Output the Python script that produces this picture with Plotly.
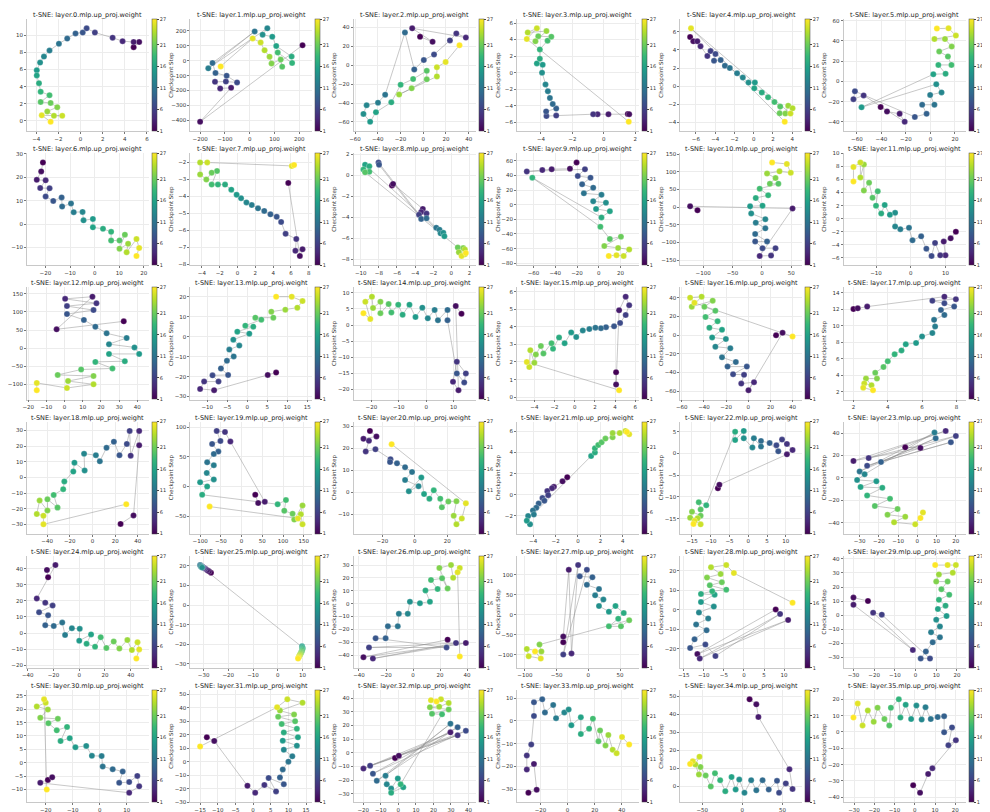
import plotly.graph_objects as go

W, H = 990, 812

steps = [1, 2, 3, 4, 5, 6, 7, 8, 9, 10, 11, 12, 13, 14, 15, 16, 17, 18, 19, 20, 21, 22, 23, 24, 25, 26, 27]
cbar_ticks = [1, 6, 11, 16, 21, 27]

# t-SNE coordinates per layer, in checkpoint order
l0_x = [4.8, 5.3, 4.8, 3.8, 2.9, 1.3, 0.55, 0.2, -0.45, -1.2, -1.95, -2.8, -3.3, -3.65, -3.95, -3.95, -3.75, -3.6, -2.8, -3.6, -2.7, -2.1, -3.0, -2.4, -1.65, -3.5, -2.7]
l0_y = [8.6, 9.2, 9.2, 9.3, 9.7, 10.3, 10.8, 10.3, 10.2, 9.6, 9.0, 8.2, 7.5, 6.8, 5.9, 5.3, 4.4, 3.4, 3.0, 2.2, 2.1, 1.6, 1.1, 0.6, 0.6, 0.65, -0.1]
l1_x = [213, -200, -75, -119, -140, -96, -51, -93, -138, -150, 20, -167, 71, 52, 91, 107, 169, 171, 113, 131, 125, 88, 80, 60, 44, 12, -117]
l1_y = [104, -410, -182, -186, -142, -140, -146, -101, -82, -15, 197, -51, 218, 175, 161, 99, 28, -15, 55, -40, 8, -19, 27, 70, 123, 150, -38]
l2_x = [-2.8, 8.2, -9.7, 37.5, 29.1, 23.5, 9.5, 0.5, -7.9, -16.1, -33.5, -39.8, -49.8, -52.6, -46.7, -41.6, -28.1, -19.9, -8.9, 3.1, 3.1, -10.2, -21.2, 12.0, 12.0, 19.7, 31.9]
l2_y = [30.1, 24.7, 39.0, 29.2, 33.6, 26.2, 11.3, 5.4, -4.5, 34.5, -31.2, -39.6, -42.3, -51.5, -59.8, -49.7, -39.3, -20.8, -14.6, -6.0, -14.9, -24.4, -31.0, -11.9, -2.1, 3.3, 21.1]
l3_x = [1.52, 1.61, 0.29, -0.40, -0.68, -3.03, -3.65, -3.67, -3.03, -3.25, -3.43, -3.56, -3.71, -3.93, -3.89, -4.26, -4.07, -4.07, -3.58, -3.34, -4.17, -4.35, -3.65, -4.84, -4.26, -4.90, 1.58]
l3_y = [-4.98, -5.02, -5.02, -5.02, -5.02, -5.19, -5.25, -4.68, -4.34, -3.80, -3.05, -2.24, -1.42, 0.0, 0.95, 1.12, 1.69, 2.81, 3.86, 4.34, 4.41, 3.80, 5.02, 4.85, 5.36, 4.07, -5.93]
l4_x = [-6.6, -6.27, -5.85, -5.52, -4.81, -4.48, -3.97, -4.12, -3.43, -2.99, -2.48, -1.73, -1.13, -0.54, 0.12, 0.06, 0.84, 1.49, 2.15, 2.75, 2.69, 3.28, 3.58, 4.03, 3.82, -6.51, 3.22]
l4_y = [5.44, 4.97, 4.97, 4.41, 3.34, 3.88, 3.56, 2.81, 2.88, 2.25, 2.0, 1.41, 0.94, 0.38, 0.38, -0.25, -0.72, -1.25, -1.78, -2.28, -3.03, -3.06, -2.19, -2.47, -3.06, 6.41, -3.97]
l5_x = [-40.6, -35.4, -25.1, -21.0, -54.5, -62.8, -61.6, -12.7, -3.1, -6.7, 3.3, -0.2, 9.1, 4.8, -56.2, 2.4, 12.4, 6.5, 17.2, 14.3, 7.2, 17.4, 11.9, 3.3, 20.8, 14.8, 5.3]
l5_y = [-25.4, -29.8, -32.1, -39.9, -13.9, -17.6, -9.8, -35.1, -32.1, -23.1, -23.1, -13.4, -10.9, -2.8, -25.6, 7.0, 7.5, 16.2, 16.2, 24.5, 29.5, 34.3, 41.8, 41.8, 45.2, 52.4, 52.1]
l6_x = [-21.0, -21.7, -23.5, -19.9, -22.1, -18.3, -19.9, -16.8, -13.4, -13.2, -9.6, -8.5, -4.9, -4.5, -0.7, -0.7, 3.4, 6.7, 6.7, 10.1, 12.3, 10.1, 13.6, 13.0, 17.0, 18.1, 17.0]
l6_y = [26.3, 22.5, 18.9, 18.7, 15.4, 15.3, 11.8, 9.9, 11.4, 7.5, 8.8, 5.1, 5.2, 1.6, 2.2, -1.4, -2.0, -3.3, -7.0, -7.0, -4.5, -10.5, -8.4, -12.0, -6.4, -10.2, -13.6]
l7_x = [5.7, 7.0, 7.3, 6.5, 6.6, 5.4, 4.9, 4.4, 3.7, 3.0, 2.3, 1.6, 1.0, 0.4, -0.1, -0.7, -1.4, -2.2, -2.9, -2.3, -2.9, -3.5, -4.2, -4.2, -3.4, 6.1, 6.35]
l7_y = [-3.2, -7.5, -7.1, -7.2, -6.5, -6.2, -5.5, -5.2, -5.05, -4.85, -4.7, -4.5, -4.35, -4.1, -3.9, -3.6, -3.3, -3.3, -3.3, -2.5, -2.6, -3.0, -2.7, -2.0, -2.0, -2.2, -2.15]
l8_x = [-6.55, -6.43, -3.15, -3.33, -2.74, -3.57, -8.04, -7.98, -3.33, -2.74, -1.67, -1.31, -1.19, -0.89, -0.77, -9.52, -9.05, -9.7, -9.05, -9.52, 0.71, 1.31, 0.83, 1.49, 1.49, 1.13, 1.6]
l8_y = [-0.95, -0.81, -3.2, -3.5, -3.65, -3.75, 1.24, 1.03, -4.16, -4.1, -5.0, -5.19, -5.54, -5.49, -5.81, 1.03, 0.89, 0.57, 0.35, 0.30, -6.89, -6.95, -7.35, -7.08, -7.54, -7.7, -7.43]
l9_x = [-20.4, -26.5, -43.3, -51.9, -66.2, -12.7, -19.3, -7.6, -15.3, -5.1, -13.7, 2.5, -5.1, 6.6, -2.5, 10.2, 2.5, -61.1, 1.5, 10.2, 20.4, 5.1, 17.8, 28.0, 22.9, 16.3, 9.2]
l9_y = [57.6, 49.1, 48.4, 47.2, 45.3, 48.4, 39.1, 36.8, 27.9, 23.2, 15.5, 13.5, 4.6, 2.7, -5.8, -8.9, -17.4, 36.8, -30.2, -46.8, -43.7, -56.5, -59.2, -61.1, -70.0, -68.9, -70.0]
l10_x = [-109.5, -122, 52, -3.8, 15.5, 23.1, 1.0, -11.5, 8.7, -11.5, 5.8, -10.5, 5.8, -18.2, -20.1, 1.0, -10.5, 10.6, -3.8, 27.9, 13.5, 23.1, 8.7, 29.8, 49, 42.3, 17.3]
l10_y = [-8.8, 2.4, -4, -138, -137, -116, -116, -97, -97, -76, -60, -44, -34, -18, 2.4, 4, 25.6, 33.6, 52, 66, 66, 82, 95, 101, 97, 122, 126]
l11_x = [13, 11.5, 9.5, 10, 8.5, 7, 6, 4.5, 3, 0.5, -0.5, -3, -4.5, -4.5, -6, -7.5, -8.5, -10, -9.5, -11, -12, -13.5, -13.5, -14.5, -14.5, -16.5, -16.5]
l11_y = [-2.0, -3.0, -3.5, -5.6, -5.6, -3.7, -5.7, -4.6, -2.7, -3.3, -1.4, -1.6, -1.2, 0.9, 0.6, 2.1, 0.8, 2.0, 4.2, 3.2, 5.5, 4.3, 8.3, 6.3, 8.6, 7.9, 5.7]
l12_x = [32.5, -4.4, 15.3, 0.3, 17.5, 1.3, 15.9, 1.3, 10.6, 16.9, 23.1, 34.1, 24.4, 38.4, 41, 24.4, 33.1, 16.9, 26.3, 9.1, -3.8, 15.9, 1.9, 15.9, 1.3, -15.3, -15.3]
l12_y = [74, 52, 142, 136, 124, 116, 105, 94, 78, 59, 41, 28, 11, 2, -16, -16, -36, -38, -56, -59, -74, -77, -91, -100, -110, -96, -116]
l13_x = [7.2, 5.1, -8.3, -11.8, -10.8, -7.2, -8.7, -4.8, -6.6, -5.1, -3.4, -4.5, -2.0, -3.5, 0.5, -2.5, 1.5, -0.5, 3.5, 2.0, 6.5, 6.0, 9.5, 12.5, 13.8, 11.1, 7.2]
l13_y = [-18.0, -19.2, -26.8, -26.2, -22.5, -22.5, -19.4, -19.2, -15.9, -12.1, -9.9, -6.5, -4.5, -1.5, 1.5, 2.5, 5.0, 5.5, 8.5, 9.5, 9.5, 12.5, 13.5, 14.5, 17.8, 20.0, 20.0]
l14_x = [12.9, 10.8, 11.8, 9.8, 11.2, 14.5, 13.9, 11.2, 7.8, 7.8, 4.3, 3.1, 0.6, -1.4, -3.9, -6.1, -8.6, -10.2, -12.7, -13.7, -16.7, -16.7, -19.4, -19.8, -22.2, -20.4, -22.9]
l14_y = [3.5, 5.9, -20.2, -17.6, -11.4, -15.0, -17.8, -15.0, 1.5, 4.7, 1.5, 4.7, 2.1, 5.4, 2.5, 6.3, 3.2, 6.3, 3.9, 6.5, 3.7, 7.2, 5.3, 8.8, 7.2, 1.9, 3.7]
l15_x = [4.1, 4.1, 4.4, 5.05, 5.4, 5.05, 4.5, 3.9, 3.1, 2.6, 2.05, 1.45, 0.8, 0.15, -0.35, -1.0, -1.55, -2.15, -2.3, -3.1, -3.35, -3.85, -4.0, -4.4, -4.5, -4.75, 4.4]
l15_y = [1.42, 0.72, 4.94, 5.71, 5.23, 4.67, 4.22, 4.03, 3.98, 3.92, 3.95, 3.87, 3.79, 3.42, 3.68, 3.07, 3.39, 2.75, 3.07, 2.48, 2.91, 2.43, 1.95, 2.67, 1.71, 2.0, 0.4]
l16_x = [25.1, 31.0, 0.2, 5.2, -6.3, -3.8, -13.7, -1.3, -18.7, -11.2, -23.7, -16.2, -29.7, -20.2, -32.6, -23.7, -35.1, -27.7, -38.6, -29.7, -39.6, -32.1, -51.0, -42.1, -52.5, -48.6, 40.0]
l16_y = [-0.3, 2.3, -59, -50.5, -52, -42.6, -42, -33.8, -33.8, -28.9, -23.9, -14.1, -12.5, -4.3, -2.6, 5.6, 7.9, 14.8, 19.3, 25.9, 30.2, 36.7, 30.2, 41.0, 40.0, 34.4, -1.6]
l17_x = [2.0, 2.25, 2.8, 7.3, 7.97, 6.6, 7.3, 7.87, 7.1, 7.3, 6.7, 6.76, 6.6, 6.0, 5.65, 5.05, 4.8, 4.4, 4.0, 3.75, 3.27, 3.37, 2.73, 3.05, 2.63, 2.57, 3.14]
l17_y = [12.0, 12.1, 12.3, 13.5, 13.2, 13.0, 12.7, 12.3, 11.9, 11.3, 10.7, 9.9, 9.1, 8.7, 7.9, 7.75, 7.0, 6.55, 5.7, 5.0, 4.3, 3.6, 3.6, 2.8, 3.0, 2.5, 2.2]
l18_x = [24.8, 36.2, 41.2, 41.2, 33.7, 32.8, 30.3, 23.8, 18.9, 12.4, 6.5, 3.0, -7.4, -6.9, -15.9, -16.9, -24.8, -25.8, -34.2, -30.8, -39.7, -39.7, -46.6, -49.1, -43.2, -43.2, 29.8]
l18_y = [-29.7, -24.3, 20.5, 29.7, 13.9, 29.7, 21.4, 14.2, 22.8, 18.9, 10.3, 14.2, 15.1, 4.4, 9.4, 3.7, -2.6, -7.5, -11.2, -19.3, -14.0, -21.1, -14.8, -23.4, -24.5, -30.0, -17.1]
l19_x = [33, 40, 56, -27, -40, -60, -51, -71, -56, -67, -83, -67, -84, -67, -100, -83, -95, 87, 107, 103, 123, 127, 147, 143, 147, 136, -77]
l19_y = [-14, -28, -26, 76, 92, 94, 77, 72, 59, 55, 41, 36, 23, 12, 7, 0, -14, -30, -23, -41, -46, -56, -32, -47, -64, -54, -34]
l20_x = [-27.7, -23.7, -31.7, -28.3, -30.3, -24.3, -15, -15.3, -11, -6, -1.7, -6, 2.3, -3.7, 4, 5.7, 9, 11.7, 15.7, 16.7, 20.7, 25.7, 24, 25.7, 29, 31.5, -14.3]
l20_y = [27.8, 25.3, 24.2, 23.3, 18.5, 19.5, 15, 13.7, 13.1, 11.4, 9.2, 5.6, 2.8, 0.5, 6.7, -0.8, -2.9, 0.9, -2.9, -6.8, -4.2, -4.0, -10.6, -14.5, -11.9, -5.0, 21.8]
l21_x = [-0.96, -1.38, -2.15, -2.32, -2.74, -2.66, -3.17, -3.0, -3.51, -3.72, -4.02, -3.94, -4.45, -4.28, -4.57, 1.17, 1.51, 1.51, 1.81, 2.11, 2.45, 3.09, 3.09, 3.72, 4.23, 4.57, 4.36]
l21_y = [1.66, 1.26, 0.74, 0.61, 0.34, -0.05, -0.32, -0.58, -0.84, -1.24, -1.5, -1.89, -2.03, -2.82, -2.47, 3.66, 4.0, 4.4, 4.71, 4.97, 5.32, 5.45, 5.84, 5.84, 6.05, 5.74, 5.95]
l22_x = [-8.1, -7.7, 10.3, 11.8, 10.3, 9.0, 7.5, 8.0, 5.7, 3.4, 3.4, 1.5, 1.1, -1.2, -1.2, -3.5, -3.5, -11.2, -13.2, -12.7, -12.7, -15.0, -15.5, -13.5, -12.7, -14.3, -14.6]
l22_y = [-8.0, -7.2, -0.2, 0.8, 2.2, 3.2, 1.9, 0.5, 2.4, 2.9, 1.6, 3.5, 1.4, 3.5, 5.2, 3.1, 5.0, -11.9, -11.2, -12.9, -14.3, -13.4, -14.8, -14.9, -16.3, -15.5, -16.2]
l23_x = [-6.3, 1.6, -33.2, 14.7, -25.3, 20.0, -26.1, 17.4, -18.9, 9.5, -30.0, 8.9, -27.4, -31.3, -21.3, -29.5, -18.2, -26.1, -14.2, -22.1, -10.3, -15.5, -6.3, -12.1, -1.1, 2.9, 1.6]
l23_y = [27.3, 26.8, 15.2, 42.0, 17.7, 37.5, 10.9, 31.9, 14.2, 35.4, 5.8, 40.5, 3.3, -1.8, -3.0, -8.1, -8.9, -15.7, -18.7, -25.1, -27.8, -32.9, -34.7, -39.7, -41.5, -30.9, -35.9]
l24_x = [-24.2, -25.1, -18.5, -33, -26.4, -20.7, -31.2, -24.2, -26.4, -19.8, -13.2, -11, -5.7, 0.4, 0, 9.2, 5.7, 12.3, 16.7, 21.1, 26.8, 31.2, 37.4, 40.9, 45.3, 46.6, 44.4]
l24_y = [34.7, 39.3, 42.3, 21.5, 18.9, 17.1, 12.9, 11.1, 4.9, 4.4, 6.5, -1.2, 3.0, 2.6, -4.8, -0.9, -6.7, -8.5, -2.6, -9.3, -5.3, -9.7, -4.4, -10.6, -5.8, -10.2, -15.9]
l25_x = [-27.0, -27.8, -28.5, -29.3, -29.8, -30.2, -30.5, -30.8, -31.0, -31.2, -31.4, -31.2, -30.9, -30.6, 9.8, 9.9, 10.0, 9.9, 9.8, 9.6, 9.4, 9.2, 9.0, 8.8, 8.6, 8.4, 8.2]
l25_y = [16.5, 17.2, 17.8, 18.5, 18.9, 19.3, 19.6, 19.8, 20.0, 20.2, 20.4, 20.0, 19.6, 19.2, -21.0, -21.5, -22.0, -22.6, -23.2, -23.8, -24.3, -24.8, -25.3, -25.8, -26.3, -26.8, -27.3]
l26_x = [25.6, -36.7, 39.1, -29.7, 31.8, -32.6, 24.8, -27.7, -20.3, -18.6, -11.3, -10.5, -3.9, -2.3, 5.1, 12.5, 9.2, 18.2, 13.3, 21.5, 25.6, 19.5, 28.1, 29.7, 34.6, 33.0, 34.6]
l26_y = [-28.0, -41.6, -30.6, -42.7, -30.6, -34.1, -34.1, -26.9, -26.9, -17.5, -17.5, -7.9, -7.9, 1.5, 0.4, 1.5, 10.3, 11.4, 18.4, 19.7, 11.8, 27.8, 30.0, 20.1, 27.8, 24.5, -41.1]
l27_x = [-39.5, -39.5, -30.8, -26.5, -16.1, -39.5, -2.3, -13.5, 6.4, -2.3, 16.8, 10.7, 23.7, 16.8, 32.4, 42.8, 55.8, 47.1, 32.4, 51.4, 64.4, -77, -74, -97, -94, -75, -84]
l27_y = [-68.8, -54.6, 112.8, -97.2, 124.8, -100, 112.8, 96.5, 94.3, 75.2, 64.5, 48.9, 38.3, 22.0, 7.8, 22.0, 4.3, -9.9, -29.1, -29.1, -13.5, -75, -92, -86, -104, -110, -92]
l28_x = [7.9, -11.6, 11.0, -11.0, 9.0, -7.1, -9.6, -13.4, -12.3, -9.3, -11.9, -8.9, -11.2, -7.5, -10.7, -7.3, -10.7, -7.9, -4.4, -8.5, -5.5, -9.2, -5.8, -8.2, -4.4, -2.5, 12.1]
l28_y = [0.2, -22.7, -5.2, -25.0, -2.1, -23.7, -17.8, -19.6, -15.1, -10.5, -7.5, -4.4, -1.4, 1.7, 4.0, 7.8, 8.2, 9.6, 10.4, 12.6, 14.2, 16.6, 18.4, 21.9, 23.0, 18.9, 3.7]
l29_x = [-23, -30, -30, -1.3, -20.5, -16.3, 7.0, 2.5, 5.0, 8.3, 11.8, 7.5, 11.8, 10.0, 15.0, 10.8, 14.5, 11.3, 16.3, 12.5, 15.5, 10.0, 11.3, 18.0, 19.5, 15.5, 9.5]
l29_y = [10.1, 12.5, 7.4, -24.7, 1.8, 0.4, -30.8, -30.8, -25.8, -19.3, -15.7, -12.1, -8.0, -3.2, -0.6, 4.4, 6.8, 10.9, 14.5, 18.5, 23.9, 23.9, 29.0, 30.2, 35.6, 35.6, 35.6]
l30_x = [-19.2, -17.6, -22.0, 10.9, 14.6, 13.9, 10.9, 7.2, 8.5, 4.8, 1.1, 0.7, -2.9, -5.0, -9.0, -11.1, -14.5, -12.1, -15.9, -19.0, -15.5, -22.0, -19.2, -23.3, -20.0, -20.6, -19.6]
l30_y = [-6.4, -5.4, -7.5, -11.2, -8.8, -4.9, -7.2, -7.5, -3.3, -2.4, -1.4, 2.5, 2.6, 6.3, 5.8, 9.2, 8.1, 13.4, 12.1, 14.8, 16.4, 16.8, 19.9, 21.0, 22.4, 23.7, -10.0]
l31_x = [-13.1, -11.0, -1.6, 0.6, 3.2, 6.5, 4.4, 8.7, 7.6, 8.4, 10.0, 11.1, 8.7, 12.4, 8.4, 12.7, 8.7, 12.4, 8.1, 11.9, 7.1, 11.6, 7.6, 14.0, 9.7, 6.8, -15.0]
l31_y = [18.1, 15.4, -17.9, -23.1, -17.3, -22.1, -12.1, -16.7, -11.7, -5.8, 0, 4.0, 8.8, 11.9, 15.6, 18.1, 21.7, 24.4, 27.9, 30.0, 33.3, 35.0, 37.9, 43.8, 46.3, 40.4, 11.3]
l32_x = [-1.9, 0.3, 29.7, -19.9, 33.8, -16.1, 38.5, -14.5, 33.8, -12.3, 29.7, -7.3, -6.6, -4.1, -0.3, 2.8, -4.1, 1.3, 24.9, 19.2, 28.7, 18.0, 23.3, 28.7, 24.3, 18.6, 21.8]
l32_y = [-3.8, -2.1, 15.0, -11.5, 12.9, -9.4, 16.1, -15.2, 18.8, -20.5, 21.3, -16.7, -23.0, -26.1, -18.8, -25.1, -29.2, -23.0, 28.2, 28.6, 31.7, 33.4, 33.8, 36.5, 39.2, 38.6, 37.6]
l33_x = [-28.9, -22.8, -24.8, -30.1, -30.1, -26.8, -24.8, -24.8, -18.7, -16.7, -10.6, -8.5, -2.4, 0.8, 2.8, 9.8, 9.8, 15.9, 18.7, 22.8, 24.0, 28.0, 30.1, 33.3, 36.2, 40.2, 45.5]
l33_y = [-31.6, -30.3, -18.9, -21.4, -15.2, -10.4, 2.2, 8.2, 9.5, 3.7, 7.0, 1.2, 3.7, 5.0, -1.9, 1.6, -5.8, -3.4, 1.0, -9.0, -4.2, -10.8, -6.2, -12.7, -14.2, -7.1, -10.4]
l34_x = [9.0, 17.4, 20.0, 58.7, 62.6, 54.2, 45.8, 43.2, 32.9, 25.2, 17.4, 11.0, 2.6, -3.9, -8.4, -13.5, -21.3, -27.7, -34.2, -39.4, -45.8, -52.3, -54.2, -58.7, -53.5, -61.9, -65.2]
l34_y = [48.3, 45.5, 38.5, 9.5, -1.4, 1.7, -3.5, 3.1, -1.7, 3.5, -2.1, 3.5, -3.5, 3.8, -1.7, 5.2, -2.6, 3.5, 7.3, 0.0, 6.1, 10.8, 6.6, 12.2, 16.5, 13.9, 12.5]
l35_x = [-0.8, 2.6, 6.6, 8.7, 20.3, 16.6, 18.4, 14.5, 14.5, 11.3, 7.9, 5.3, 3.4, 0.8, -1.8, -4.5, -7.1, -7.9, -11.8, -12.6, -15.0, -18.4, -20.3, -23.2, -25.8, -28.2, -30.3]
l35_y = [-32.6, -37.2, -25.7, -22.2, -5.0, -8.1, 2.8, -0.2, 9.7, 9.1, 7.9, 15.2, 7.6, 16.2, 7.9, 16.6, 8.8, 20.0, 14.8, 4.0, 7.9, 14.8, 6.2, 13.1, 4.0, 17.4, 8.8]

layers = [
    (l0_x, l0_y), (l1_x, l1_y), (l2_x, l2_y), (l3_x, l3_y), (l4_x, l4_y), (l5_x, l5_y),
    (l6_x, l6_y), (l7_x, l7_y), (l8_x, l8_y), (l9_x, l9_y), (l10_x, l10_y), (l11_x, l11_y),
    (l12_x, l12_y), (l13_x, l13_y), (l14_x, l14_y), (l15_x, l15_y), (l16_x, l16_y), (l17_x, l17_y),
    (l18_x, l18_y), (l19_x, l19_y), (l20_x, l20_y), (l21_x, l21_y), (l22_x, l22_y), (l23_x, l23_y),
    (l24_x, l24_y), (l25_x, l25_y), (l26_x, l26_y), (l27_x, l27_y), (l28_x, l28_y), (l29_x, l29_y),
    (l30_x, l30_y), (l31_x, l31_y), (l32_x, l32_y), (l33_x, l33_y), (l34_x, l34_y), (l35_x, l35_y),
]

FONT = "DejaVu Sans"
COL_W = 164.5
fig = go.Figure()
layout = {}
annotations = []

for i, (xs, ys) in enumerate(layers):
    r, c = divmod(i, 6)
    n = i + 1
    xa = "x" if n == 1 else f"x{n}"
    ya = "y" if n == 1 else f"y{n}"

    # pixel box of the axes inside its grid cell
    left = c * COL_W + 12
    right = c * COL_W + 135
    top = r * 135.2 + 8
    bottom = r * 135.2 + 121

    fig.add_trace(go.Scatter(
        x=xs, y=ys, mode="lines", xaxis=xa, yaxis=ya,
        line=dict(color="rgba(140,140,140,0.6)", width=0.8),
        hoverinfo="skip", showlegend=False))
    fig.add_trace(go.Scatter(
        x=xs, y=ys, mode="markers", xaxis=xa, yaxis=ya, showlegend=False,
        marker=dict(size=6, color=steps, colorscale="Viridis", cmin=1, cmax=27,
                    line=dict(color="rgba(255,255,255,0.6)", width=0.4),
                    colorbar=dict(
                        x=(c * COL_W + 138) / W, xanchor="left", xpad=0,
                        y=1 - (top + bottom) / 2 / H, yanchor="middle", ypad=0,
                        len=(bottom - top) / H, lenmode="fraction",
                        thickness=5, outlinewidth=0.5, outlinecolor="#444",
                        tickvals=cbar_ticks, ticks="outside", ticklen=2,
                        tickwidth=0.5, tickfont=dict(size=5, family=FONT, color="#333"),
                        title=dict(text="Checkpoint Step", side="right",
                                   font=dict(size=5.5, family=FONT, color="#333"))))))

    axis_common = dict(
        showgrid=True, gridcolor="#ececec", gridwidth=0.6, zeroline=False,
        showline=True, linecolor="#c8c8c8", linewidth=0.8,
        ticks="outside", ticklen=2, tickwidth=0.5, tickcolor="#777",
        tickfont=dict(size=5.5, family=FONT, color="#333"))
    layout["xaxis" if n == 1 else f"xaxis{n}"] = dict(
        axis_common, domain=[left / W, right / W], anchor=ya, nticks=7)
    layout["yaxis" if n == 1 else f"yaxis{n}"] = dict(
        axis_common, domain=[1 - bottom / H, 1 - top / H], anchor=xa, nticks=9)

    annotations.append(dict(
        text=f"t-SNE: layer.{i}.mlp.up_proj.weight", xref="paper", yref="paper",
        x=(left + right) / 2 / W, y=1 - (top - 4) / H, xanchor="center", yanchor="middle",
        showarrow=False, font=dict(size=6.5, family=FONT, color="#222")))

fig.update_layout(
    **layout, annotations=annotations,
    width=W, height=H, margin=dict(l=0, r=0, t=0, b=0),
    paper_bgcolor="white", plot_bgcolor="white",
    font=dict(family=FONT))

fig.write_html("out.html")
